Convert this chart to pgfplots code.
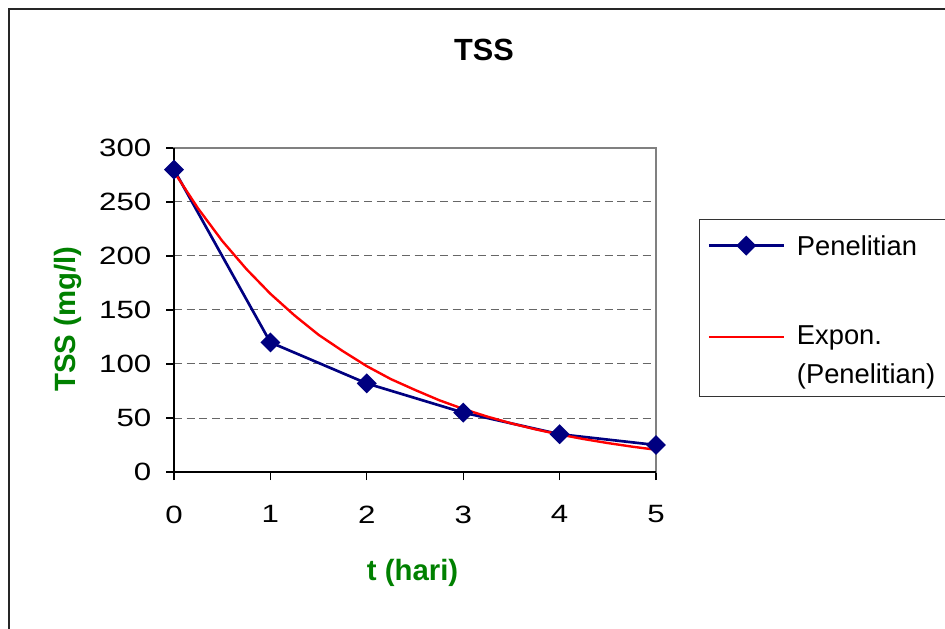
\documentclass[border=0pt]{standalone}
\usepackage{fontspec}
\setmainfont{Liberation Sans}
\newfontfamily\tickfont[FakeStretch=1.25]{Liberation Sans}
\usepackage{pgfplots}
\usepackage{pgfplotstable}
\pgfplotsset{compat=1.18}
\definecolor{navy}{RGB}{0,0,128}
\definecolor{xlgreen}{RGB}{0,128,0}
\definecolor{xlgray}{RGB}{128,128,128}

\pgfplotstableread{
t tss
0 280
1 120
2 82
3 55
4 35
5 25
}\penelitian

\pgfplotstableread{
t tss
0 278
0.25 244
0.5 214
0.75 188
1 165
1.25 145
1.5 127
1.75 112
2 98
2.25 86
2.5 76
2.75 66.5
3 58.4
3.25 51.3
3.5 45
3.75 39.5
4 34.7
4.25 30.5
4.5 26.8
4.75 23.5
5 20.6
}\expon

\begin{document}
\begin{tikzpicture}
\useasboundingbox (0,0) rectangle (708.75pt,471pt);
\draw[line width=1.1pt, black!85] (6.75pt,-5pt) -- (6.75pt,464.25pt) -- (720pt,464.25pt);
\begin{axis}[
  at={(130.5pt,117pt)}, anchor=south west,
  scale only axis, width=361.5pt, height=243pt,
  xmin=0, xmax=5, ymin=0, ymax=300,
  xtick={0,1,2,3,4,5}, ytick={0,50,100,150,200,250,300},
  tick align=outside, major tick length=6pt, tick pos=left,
  tick style={black, line width=0.8pt},
  ymajorgrids, grid style={black!60, line width=0.75pt, dash pattern=on 6pt off 3.5pt},
  axis line style={xlgray, line width=1.5pt},
  clip=false,
  /pgf/number format/assume math mode=true,
  ticklabel style={font=\tickfont\fontsize{18.75}{22}\selectfont},
  xticklabel style={yshift=-15.75pt},
  yticklabel style={xshift=-7.5pt},
  title={TSS},
  title style={at={(rel axis cs:0.643,1.278)}, anchor=center, font=\bfseries\fontsize{23}{27}\selectfont},
  xlabel={t (hari)},
  xlabel style={at={(rel axis cs:0.495,-0.312)}, anchor=center, text=xlgreen, font=\bfseries\fontsize{22}{26}\selectfont},
  ylabel={TSS (mg/l)},
  ylabel style={at={(rel axis cs:-0.221,0.472)}, anchor=center, rotate=0, text=xlgreen, font=\bfseries\fontsize{22}{26}\selectfont},
  legend style={at={(rel axis cs:1.0892,0.7809)}, anchor=north west, draw=black!80, line width=0.9pt, fill=white,
    inner xsep=6pt, inner ysep=10pt, row sep=48.5pt,
    font=\fontsize{20.5}{29}\selectfont,
    nodes={text depth=},
    /tikz/every odd column/.append style={column sep=7pt}},
  legend cell align=left,
  legend image code/.code={\draw[mark repeat=2,mark phase=2] plot coordinates {(0pt,0pt) (28pt,0pt) (56pt,0pt)};},
]
\draw[black, line width=1.4pt] (rel axis cs:0,1) -- (rel axis cs:0,0) -- (rel axis cs:1,0);
\addplot[navy, line width=2pt, mark=square*, mark size=4.3pt, mark options={rotate=45, solid, fill=navy, draw=navy}] table[x=t, y=tss] {\penelitian};
\addlegendentry{\makebox[120pt][l]{Penelitian}}
\addplot[red, line width=1.8pt, no marks,
  legend image code/.code={\draw (0pt,12pt) -- (56pt,12pt);}] table[x=t, y=tss] {\expon};
\addlegendentry{\vtop{\hbox{\makebox[120pt][l]{Expon.}}\hbox{(Penelitian)}\vskip-6pt}}
\end{axis}
\end{tikzpicture}
\end{document}
